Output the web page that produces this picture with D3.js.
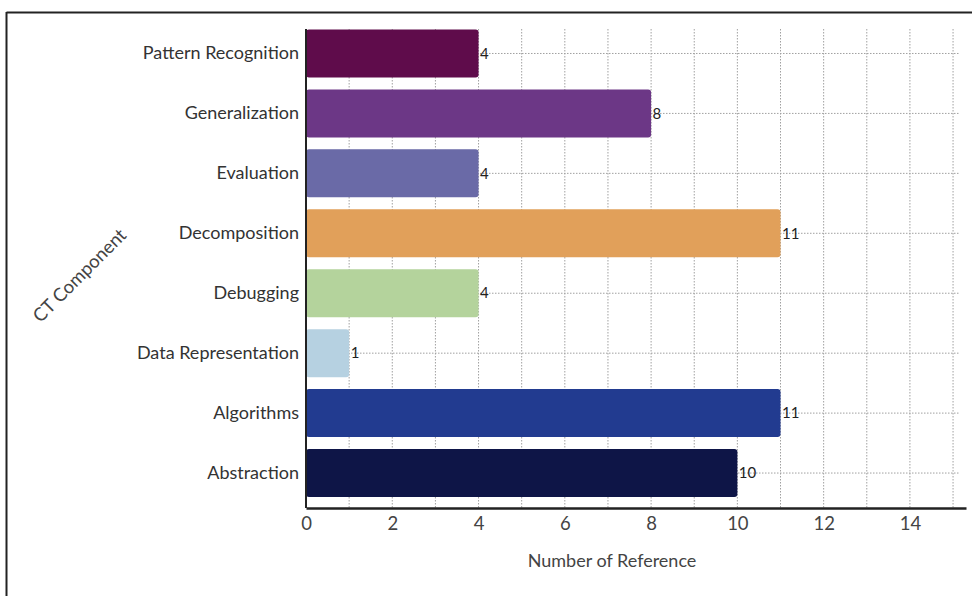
<!DOCTYPE html>
<html><head><meta charset="utf-8">
<script src="https://cdn.jsdelivr.net/npm/d3@7"></script>
<style>body{margin:0;background:#fff}svg{display:block}</style>
</head><body>
<svg id="c" width="972" height="596"></svg>
<script>
const categories = ["Pattern Recognition","Generalization","Evaluation","Decomposition","Debugging","Data Representation","Algorithms","Abstraction"];
const values = [4,8,4,11,4,1,11,10];
const colors = ["#5f0c4b","#6c3786","#6a6aa7","#e1a05a","#b4d39c","#b6d1e1","#223b90","#0e1547"];
const xTicks = [0,2,4,6,8,10,12,14];
const gridVals = d3.range(1,16);
const xTitle = "Number of Reference";
const yTitle = "CT Component";

const svg = d3.select("#c");
const font = "Lato, 'Open Sans', sans-serif";
const x = d3.scaleLinear().domain([0,15.3]).range([306,966]);
const y = d3.scaleBand().domain(categories).range([23.5,503]).paddingInner(0.2).paddingOuter(0.1);
const axisY = 508;

// frame
svg.append("line").attr("x1",6.5).attr("x2",972).attr("y1",12.5).attr("y2",12.5).attr("stroke","#222").attr("stroke-width",2);
svg.append("line").attr("x1",6.5).attr("x2",6.5).attr("y1",12).attr("y2",596).attr("stroke","#222").attr("stroke-width",2);

// vertical grid
svg.append("g").selectAll("line").data(gridVals).join("line")
  .attr("x1",d=>x(d)).attr("x2",d=>x(d)).attr("y1",29).attr("y2",axisY)
  .attr("stroke","#a0a0a0").attr("stroke-width",1).attr("stroke-dasharray","1.5,1.5");
// horizontal grid at band centers
svg.append("g").selectAll("line").data(categories).join("line")
  .attr("x1",x(0)).attr("x2",960).attr("y1",d=>y(d)+y.bandwidth()/2).attr("y2",d=>y(d)+y.bandwidth()/2)
  .attr("stroke","#a0a0a0").attr("stroke-width",1).attr("stroke-dasharray","1.5,1.5");

// bars
svg.append("g").selectAll("rect").data(categories).join("rect")
  .attr("x",x(0)).attr("y",d=>y(d)).attr("height",y.bandwidth())
  .attr("width",(d,i)=>x(values[i])-x(0)).attr("rx",3)
  .attr("fill",(d,i)=>colors[i]);

// value labels
svg.append("g").selectAll("text").data(categories).join("text")
  .attr("x",(d,i)=>x(values[i])+1.5).attr("y",d=>y(d)+y.bandwidth()/2)
  .attr("dy","0.35em").attr("font-family",font).attr("font-size",15).attr("fill","#222")
  .text((d,i)=>values[i]);

// y axis
const ya = svg.append("g").attr("transform",`translate(${x(0)},0)`)
  .call(d3.axisLeft(y).tickSize(0).tickPadding(7));
ya.select(".domain").attr("stroke","#222").attr("stroke-width",2).attr("d",`M0,29V${axisY}`);
ya.selectAll("text").attr("font-family",font).attr("font-size",18).attr("fill","#333");

// x axis
const xa = svg.append("g").attr("transform",`translate(0,${axisY})`)
  .call(d3.axisBottom(x).tickValues(xTicks).tickSize(0).tickPadding(9).tickFormat(d3.format("d")));
xa.select(".domain").attr("stroke","#222").attr("stroke-width",2.5);
xa.selectAll("text").attr("font-family",font).attr("font-size",18.5).attr("fill","#444");

// titles
svg.append("text").attr("x",612).attr("y",567).attr("text-anchor","middle")
  .attr("font-family",font).attr("font-size",18).attr("fill","#444").text(xTitle);
svg.append("text").attr("transform","translate(84,280) rotate(-45)").attr("text-anchor","middle")
  .attr("font-family",font).attr("font-size",18.5).attr("fill","#444").text(yTitle);
</script>
</body></html>
